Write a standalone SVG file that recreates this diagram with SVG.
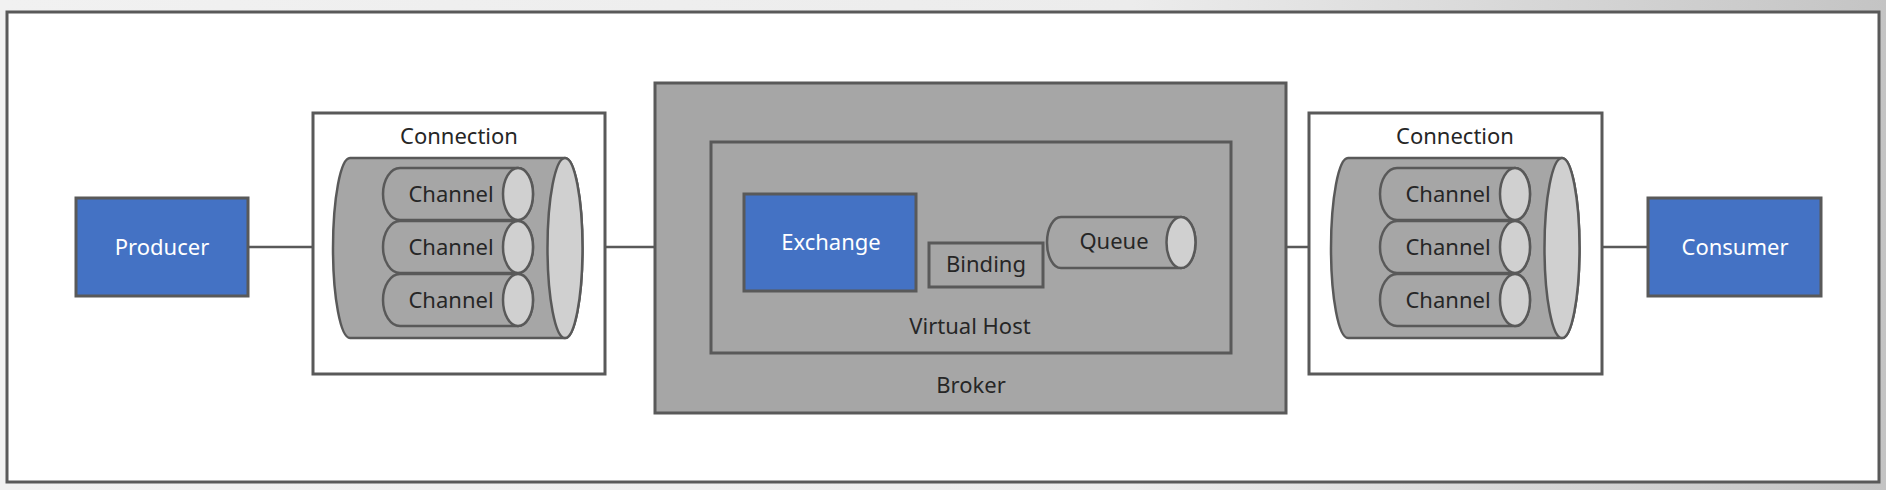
<svg xmlns="http://www.w3.org/2000/svg" width="1886" height="490" viewBox="0 0 1886 490">
<defs>
<linearGradient id="bgTop" x1="0" y1="0" x2="1" y2="0">
<stop offset="0" stop-color="#f1f1f1"/>
<stop offset="0.6" stop-color="#ececec"/>
<stop offset="1" stop-color="#c4c4c4"/>
</linearGradient>
<style>
.ln{stroke:#595959;stroke-width:2.5;fill:none}
.box{stroke:#595959;stroke-width:3}
.blue{fill:#4472c4;stroke:#595959;stroke-width:3}
.gray{fill:#a6a6a6;stroke:#595959;stroke-width:3}
.cyl{fill:#a6a6a6;stroke:#595959;stroke-width:2.5}
.face{fill:#d0d0d0;stroke:#595959;stroke-width:2.5}
.t{font-family:"Noto Sans","Liberation Sans",sans-serif;font-size:22px;fill:#262626;text-anchor:middle}
.w{fill:#ffffff}
</style>
</defs>
<rect x="0" y="0" width="1886" height="490" fill="url(#bgTop)"/>
<rect x="7" y="12" width="1872" height="470" fill="#ffffff" stroke="#595959" stroke-width="3"/>

<g id="connectors">
<line class="ln" x1="248" y1="247" x2="334" y2="247"/>
<line class="ln" x1="583" y1="247" x2="655" y2="247"/>
<line class="ln" x1="1286" y1="247" x2="1331" y2="247"/>
<line class="ln" x1="1579" y1="247" x2="1648" y2="247"/>
<line class="ln" x1="916" y1="243" x2="1047" y2="243"/>
</g>

<g id="producer">
<rect class="blue" x="76" y="198" width="172" height="98"/>
<text class="t w" x="162" y="255">Producer</text>
</g>

<g id="connection-left">
<rect class="box" x="313" y="113" width="292" height="261" fill="#ffffff"/>
<text class="t" x="459" y="144">Connection</text>
<path class="cyl" d="M350 158 L565 158 A17.5 90 0 0 1 565 338 L350 338 A17 90 0 0 1 350 158 Z"/>
<ellipse class="face" cx="565" cy="248" rx="17.5" ry="90"/>
</g>
<g id="channel-l1">
<path class="cyl" d="M400 168 L518 168 A15 26 0 0 1 518 220 L400 220 A17 26 0 0 1 400 168 Z"/>
<ellipse class="face" cx="518" cy="194" rx="15" ry="26"/>
<text class="t" x="451" y="202">Channel</text>
</g>
<g id="channel-l2">
<path class="cyl" d="M400 221 L518 221 A15 26 0 0 1 518 273 L400 273 A17 26 0 0 1 400 221 Z"/>
<ellipse class="face" cx="518" cy="247" rx="15" ry="26"/>
<text class="t" x="451" y="255">Channel</text>
</g>
<g id="channel-l3">
<path class="cyl" d="M400 274 L518 274 A15 26 0 0 1 518 326 L400 326 A17 26 0 0 1 400 274 Z"/>
<ellipse class="face" cx="518" cy="300" rx="15" ry="26"/>
<text class="t" x="451" y="308">Channel</text>
</g>

<g id="broker">
<rect class="gray" x="655" y="83" width="631" height="330"/>
<text class="t" x="971" y="393">Broker</text>
</g>
<g id="virtual-host">
<rect class="gray" x="711" y="142" width="520" height="211"/>
<text class="t" x="970" y="334">Virtual Host</text>
</g>
<g id="exchange">
<rect class="blue" x="744" y="194" width="172" height="97"/>
<text class="t w" x="831" y="250">Exchange</text>
</g>
<g id="binding">
<rect class="gray" x="929" y="243" width="114" height="44" stroke-width="2.5"/>
<text class="t" x="986" y="272">Binding</text>
</g>
<g id="queue">
<path class="cyl" d="M1061 217 L1181 217 A14.5 25.5 0 0 1 1181 268 L1061 268 A14 25.5 0 0 1 1061 217 Z"/>
<ellipse class="face" cx="1181" cy="242.5" rx="14.5" ry="25.5"/>
<text class="t" x="1114" y="249">Queue</text>
</g>

<g id="connection-right">
<rect class="box" x="1309" y="113" width="293" height="261" fill="#ffffff"/>
<text class="t" x="1455" y="144">Connection</text>
<path class="cyl" d="M1348 158 L1562 158 A17.5 90 0 0 1 1562 338 L1348 338 A17 90 0 0 1 1348 158 Z"/>
<ellipse class="face" cx="1562" cy="248" rx="17.5" ry="90"/>
</g>
<g id="channel-r1">
<path class="cyl" d="M1397 168 L1515 168 A15 26 0 0 1 1515 220 L1397 220 A17 26 0 0 1 1397 168 Z"/>
<ellipse class="face" cx="1515" cy="194" rx="15" ry="26"/>
<text class="t" x="1448" y="202">Channel</text>
</g>
<g id="channel-r2">
<path class="cyl" d="M1397 221 L1515 221 A15 26 0 0 1 1515 273 L1397 273 A17 26 0 0 1 1397 221 Z"/>
<ellipse class="face" cx="1515" cy="247" rx="15" ry="26"/>
<text class="t" x="1448" y="255">Channel</text>
</g>
<g id="channel-r3">
<path class="cyl" d="M1397 274 L1515 274 A15 26 0 0 1 1515 326 L1397 326 A17 26 0 0 1 1397 274 Z"/>
<ellipse class="face" cx="1515" cy="300" rx="15" ry="26"/>
<text class="t" x="1448" y="308">Channel</text>
</g>

<g id="consumer">
<rect class="blue" x="1648" y="198" width="173" height="98"/>
<text class="t w" x="1735" y="255">Consumer</text>
</g>
</svg>
